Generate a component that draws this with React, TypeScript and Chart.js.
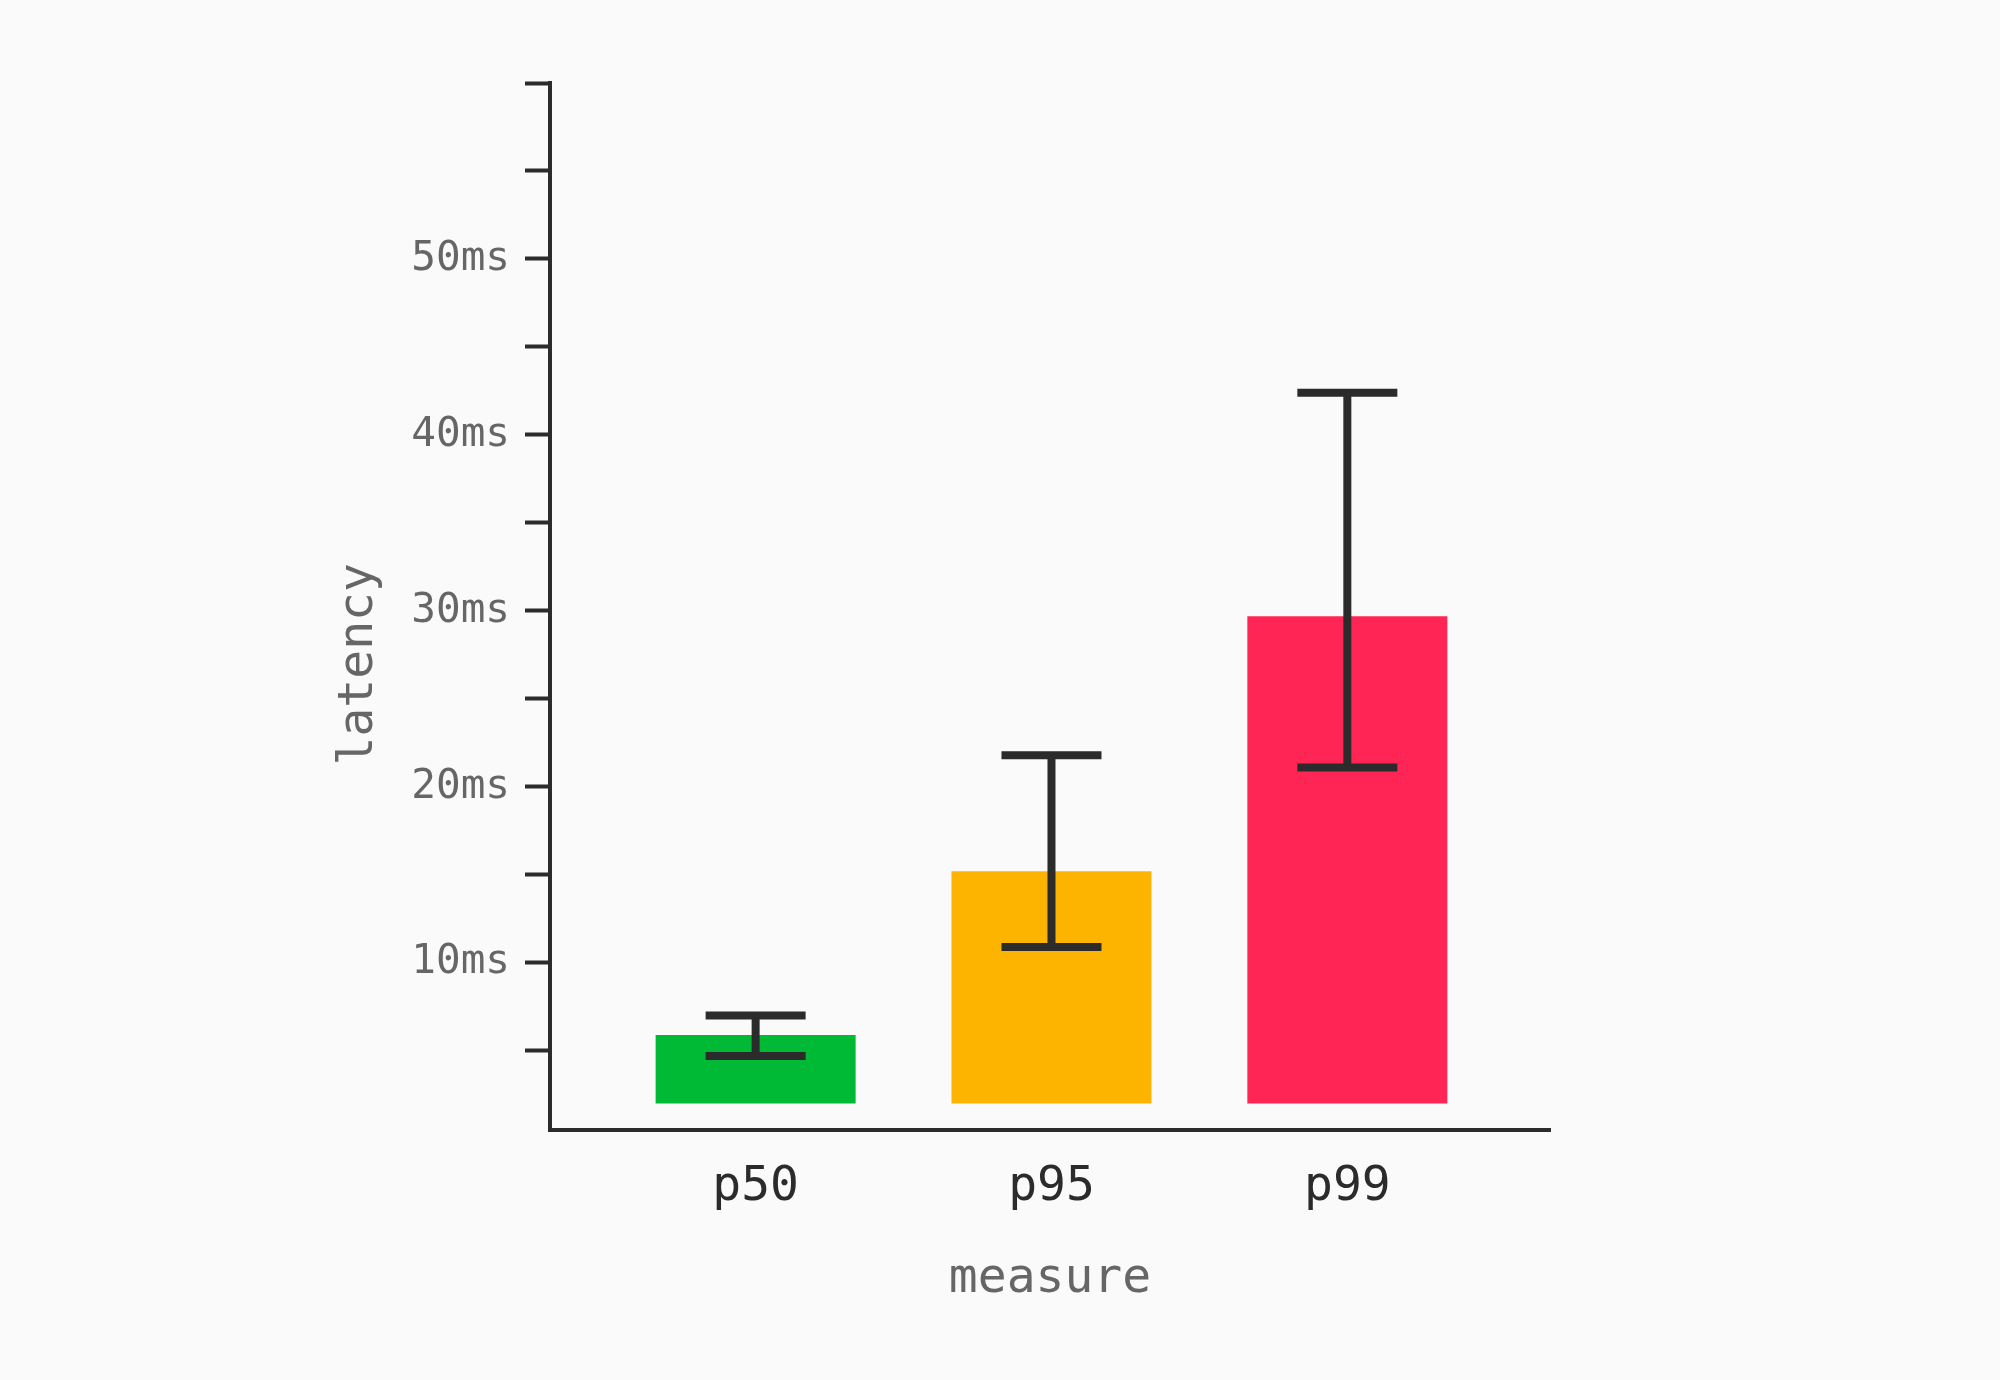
import React, { useEffect, useRef } from 'react';
import { Chart, registerables } from 'chart.js';

Chart.register(...registerables);

// measured values (ms)
const categories = ['p50', 'p95', 'p99'];
const barBase = 2;
const barValues = [5.9, 15.2, 29.7];
const errLow = [4.7, 10.9, 21.1];
const errHigh = [7.0, 21.8, 42.4];
const barColors = ['#00b934', '#fcb400', '#ff2656'];

const yTicks = [5, 10, 15, 20, 25, 30, 35, 40, 45, 50, 55, 60];
const yTickLabels = ['', '10ms', '', '20ms', '', '30ms', '', '40ms', '', '50ms', '', ''];

const INK = '#2b2b2b';
const MUTED = '#666666';
const FONT = '"DejaVu Sans Mono", monospace';

const errorBars = {
  id: 'errorBars',
  afterDatasetsDraw(chart: Chart) {
    const { ctx, scales } = chart;
    const x = scales.x;
    const y = scales.y;
    ctx.save();
    ctx.strokeStyle = INK;
    ctx.lineWidth = 8;
    ctx.lineCap = 'butt';
    categories.forEach((_, i) => {
      const cx = x.getPixelForValue(i);
      const top = y.getPixelForValue(errHigh[i]);
      const bottom = y.getPixelForValue(errLow[i]);
      const half = 50;
      ctx.beginPath();
      ctx.moveTo(cx, top);
      ctx.lineTo(cx, bottom);
      ctx.moveTo(cx - half, top);
      ctx.lineTo(cx + half, top);
      ctx.moveTo(cx - half, bottom);
      ctx.lineTo(cx + half, bottom);
      ctx.stroke();
    });
    ctx.restore();
  },
};

const LatencyChart: React.FC = () => {
  const canvasRef = useRef<HTMLCanvasElement>(null);

  useEffect(() => {
    if (!canvasRef.current) return;
    const ctx = canvasRef.current.getContext('2d');
    if (!ctx) return;

    const chart = new Chart(ctx, {
      type: 'bar',
      data: {
        datasets: [
          {
            data: barValues.map((v, i) => ({ x: i, y: [barBase, v] })) as any,
            backgroundColor: barColors,
            borderWidth: 0,
            barPercentage: 0.676,
            categoryPercentage: 1,
          },
        ],
      },
      options: {
        responsive: true,
        maintainAspectRatio: false,
        animation: false,
        devicePixelRatio: 1,
        layout: {
          padding: { left: 331, right: 450, top: 83, bottom: 72 },
        },
        plugins: {
          legend: { display: false },
          tooltip: { enabled: false },
        },
        scales: {
          x: {
            type: 'linear',
            offset: false,
            min: -0.695,
            max: 2.685,
            afterBuildTicks: (scale: any) => {
              scale.ticks = categories.map((_, i) => ({ value: i }));
            },
            afterFit: (scale: any) => {
              scale.height = 178;
            },
            grid: { display: true, drawOnChartArea: false, drawTicks: false },
            border: { display: true, color: INK, width: 4 },
            ticks: {
              color: INK,
              font: { family: FONT, size: 48 },
              padding: 29,
              maxRotation: 0,
              callback: (v: any) => categories[v] ?? '',
            },
            title: {
              display: true,
              text: 'measure',
              color: MUTED,
              font: { family: FONT, size: 48 },
              padding: 0,
            },
          },
          y: {
            type: 'linear',
            min: 0.5,
            max: 60,
            afterBuildTicks: (scale: any) => {
              scale.ticks = yTicks.map((v) => ({ value: v }));
            },
            afterFit: (scale: any) => {
              scale.width = 219;
            },
            grid: {
              display: true,
              drawOnChartArea: false,
              drawTicks: true,
              tickLength: 25,
              tickWidth: 4,
              tickColor: INK,
            },
            border: { display: true, color: INK, width: 4 },
            ticks: {
              color: MUTED,
              font: { family: FONT, size: 41 },
              padding: 15,
              callback: (v: any) => yTickLabels[yTicks.indexOf(v)] ?? '',
            },
            title: {
              display: true,
              // trailing spaces push the rotated title down, as in the source chart
              text: 'latency    ',
              color: MUTED,
              font: { family: FONT, size: 48 },
              padding: 0,
            },
          },
        },
      },
      plugins: [errorBars],
    });

    return () => chart.destroy();
  }, []);

  return <canvas ref={canvasRef}></canvas>;
};

export default function App() {
  return (
    <div
      style={{
        position: 'fixed',
        left: 0,
        top: 0,
        width: 2000,
        height: 1380,
        background: '#fafafa',
      }}
    >
      <LatencyChart />
    </div>
  );
}
